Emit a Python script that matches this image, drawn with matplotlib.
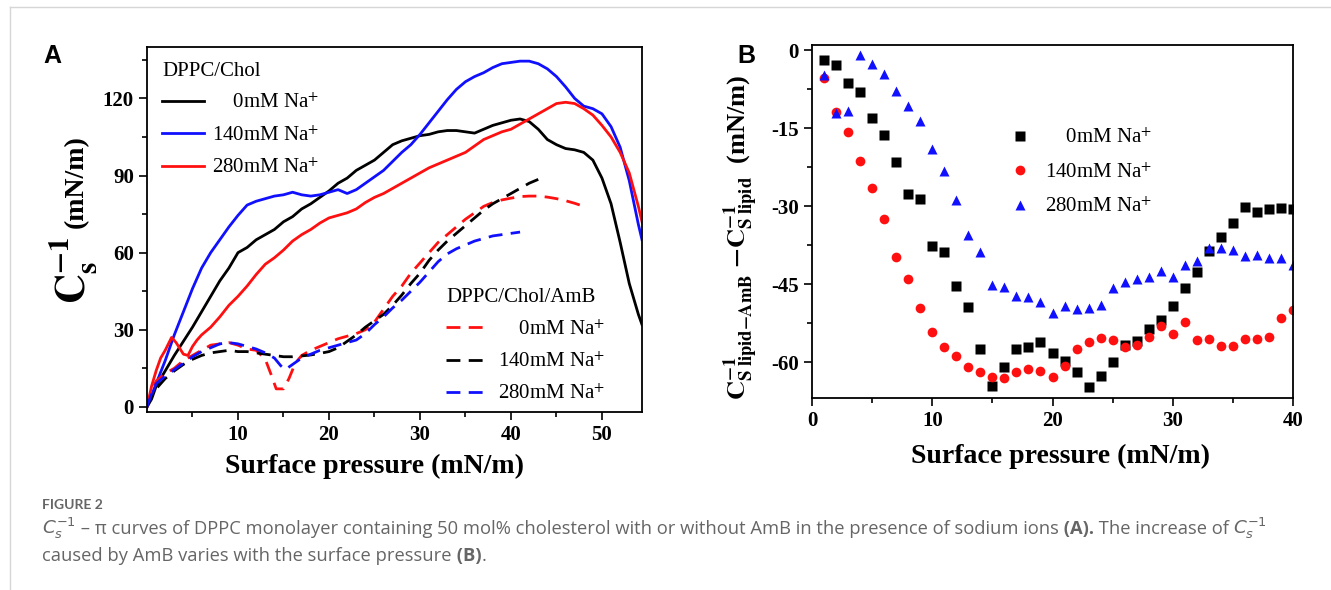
import numpy as np
import matplotlib
matplotlib.use('Agg')
import matplotlib.pyplot as plt
from matplotlib.lines import Line2D
from matplotlib.ticker import MultipleLocator, FixedLocator

plt.rcParams['font.family'] = ['Liberation Serif', 'DejaVu Serif']
plt.rcParams['mathtext.fontset'] = 'stix'
plt.rcParams['axes.unicode_minus'] = False

W, H = 1331, 590

# ---- panel A: compressibility modulus vs surface pressure ----
chol_0_x = [0, 0.5, 1, 2, 3, 4, 5, 6, 7, 8, 9, 10, 11, 12, 13, 14, 15, 16, 17, 18, 19, 20, 21, 22, 23, 24, 25,
            26, 27, 28, 29, 30, 31, 32, 33, 34, 35, 36, 37, 38, 39, 40, 41, 42, 43, 44, 45, 46, 47, 48, 49, 50,
            51, 52, 53, 54, 54.4]
chol_0_y = [0, 3, 8, 14, 20, 25.5, 31, 37, 43, 49, 54, 60, 62, 65, 67, 69, 72, 74, 77, 79, 81.5, 84, 87, 89, 92,
            94, 96, 99, 102, 103.5, 104.5, 105.5, 106, 107, 107.5, 107.5, 107, 106.5, 108, 109.5, 110.5, 111.5,
            112, 111, 108, 104, 102, 100.5, 100, 99, 96, 89, 79, 64, 48, 36, 32]

chol_140_x = [0, 1, 2, 3, 4, 5, 6, 7, 8, 9, 10, 11, 12, 13, 14, 15, 16, 17, 18, 19, 20, 21, 22, 23, 24, 25, 26,
              27, 28, 29, 30, 31, 32, 33, 34, 35, 36, 37, 38, 39, 40, 41, 42, 43, 44, 45, 46, 47, 48, 49, 50, 51,
              52, 53, 54, 54.4]
chol_140_y = [0, 9, 18, 28, 37, 46, 54, 60, 65, 70, 74.5, 78.5, 80, 81, 82, 82.5, 83.5, 82.5, 82, 82.5, 83.5,
              84.5, 83, 84.5, 87, 89.5, 92, 95.5, 99, 102, 106, 110.5, 115, 119.5, 123.5, 126.5, 128.5, 130, 132,
              133.5, 134, 134.5, 134.5, 133.5, 131.5, 128.5, 124.5, 120, 117, 116, 114, 109, 101, 88, 71, 65]

chol_280_x = [0, 0.5, 1, 1.5, 2, 2.7, 3.2, 4, 4.5, 5, 5.5, 6, 7, 8, 9, 10, 11, 12, 13, 14, 15, 16, 17, 18, 19,
              20, 21, 22, 23, 24, 25, 26, 27, 28, 29, 30, 31, 32, 33, 34, 35, 36, 37, 38, 39, 40, 41, 42, 43, 44,
              45, 46, 47, 48, 49, 50, 51, 52, 53, 54, 54.4]
chol_280_y = [0, 8, 14, 19, 22, 27, 25, 20.5, 20, 23.5, 26, 28, 31, 35, 39.5, 43, 47, 51.5, 55.5, 58, 61, 64.5,
              67, 69, 71.5, 73.5, 74.5, 75.5, 77, 79.5, 81.5, 83, 85, 87, 89, 91, 93, 94.5, 96, 97.5, 99, 101.5,
              104, 105.5, 107, 108, 110, 112, 114, 116, 118, 118.5, 118, 116, 113.5, 109.5, 105, 99, 91, 78, 72]

amb_0_x = [0, 0.5, 1, 2, 3, 4, 5, 6, 7, 8, 9, 10, 11, 12, 13, 13.7, 14.2, 15, 15.6, 16.3, 17, 18, 19, 20, 21,
           22, 23, 24, 25, 26, 27, 28, 29, 30, 31, 32, 33, 34, 35, 36, 37, 38, 39, 40, 41, 42, 43, 44, 45, 46,
           47, 48]
amb_0_y = [0, 6, 10, 13, 15, 18, 20, 22, 24, 24.5, 25, 24, 22.5, 22, 18.5, 12, 7, 7, 11, 17, 20, 22, 23.5, 25,
           26.5, 27.5, 28.5, 30, 33, 38, 43, 47, 52, 56, 60, 64, 67, 70, 73, 75.5, 78, 79.5, 80.5, 81.2, 81.8,
           82, 82, 81.6, 81, 80.2, 79.2, 78]

amb_140_x = [0, 0.5, 1, 2, 3, 4, 5, 6, 7, 8, 9, 10, 11, 12, 13, 14, 15, 16, 17, 18, 19, 20, 21, 22, 23, 24, 25,
             26, 27, 28, 29, 30, 31, 32, 33, 34, 35, 36, 37, 38, 39, 40, 41, 42, 43]
amb_140_y = [0, 4, 7, 11, 14, 16.5, 18.5, 20, 21, 21.5, 22, 21.5, 21.5, 21, 20.5, 20, 19.5, 19.5, 19.8, 20.2,
             20.8, 21.5, 23, 25.5, 28, 31, 33.5, 36, 39.5, 43.5, 48, 52, 57, 61, 64.5, 67.5, 70.5, 73.5, 76.5,
             79, 81, 83, 85, 87, 88.5]

amb_280_x = [0, 0.5, 1, 2, 3, 4, 5, 6, 7, 8, 9, 10, 11, 12, 13, 14, 14.7, 15.2, 16, 17, 18, 19, 20, 21, 22, 23,
             24, 25, 26, 27, 28, 29, 30, 31, 32, 33, 34, 35, 36, 37, 38, 39, 40, 41]
amb_280_y = [0, 5, 9, 12, 14.5, 17, 19.5, 21.5, 23, 24.5, 25, 24.5, 23.5, 22.5, 21, 19, 16, 14.5, 16.5, 19,
             20.5, 22, 23, 24, 25, 26, 28.5, 32, 35, 38.5, 41.5, 45, 48.5, 52.5, 56.5, 59.5, 61.5, 63, 64.5,
             65.5, 66.5, 67, 67.5, 68]

# ---- panel B: difference of moduli (lipid-AmB minus lipid) ----
pressure_b = list(range(1, 41))
diff_0 = [-1.9, -2.9, -6.3, -8.1, -13, -16.4, -21.6, -27.7, -28.7, -37.6, -38.8, -45.3, -49.3, -57.4, -64.5,
          -61, -57.5, -57.1, -56.2, -58.3, -59.7, -61.9, -64.8, -62.7, -60, -56.8, -56, -53.6, -51.9, -49.2,
          -45.8, -42.7, -38.7, -36, -33.2, -30.2, -31.2, -30.5, -30.4, -30.6]
diff_140 = [-5.3, -11.8, -15.7, -21.3, -26.6, -32.5, -39.7, -44, -49.6, -54.2, -57.1, -58.8, -60.9, -61.9,
            -62.9, -63.1, -61.9, -61.3, -61.8, -62.9, -60.8, -57.4, -56.1, -55.4, -55.8, -57.1, -56.8, -55.2,
            -53, -54.6, -52.2, -55.7, -55.6, -56.9, -56.9, -55.6, -55.6, -55.2, -51.6, -49.9]
diff_280 = [-4.7, -12, -11.7, -1, -2.6, -4.5, -7.9, -10.8, -13.6, -19, -23.2, -28.8, -35.5, -38.9, -45.1,
            -45.6, -47.2, -47.4, -48.5, -50.6, -49.2, -49.8, -49.5, -49, -45.8, -44.6, -44, -43.7, -42.4, -43.7,
            -41.3, -40.5, -38.1, -38.1, -38.4, -39.6, -39.4, -40, -40, -41.3]

na_labels = ['    0mM Na$^{+}$', '140mM Na$^{+}$', '280mM Na$^{+}$']

fig = plt.figure(figsize=(W / 100, H / 100), dpi=100)

def fig_box(l, t, r, b):
    # pixel box -> figure fraction
    return [l / W, 1 - b / H, (r - l) / W, (b - t) / H]

def style_axes(ax):
    for sp in ax.spines.values():
        sp.set_linewidth(1.3)
    ax.tick_params(which='both', direction='out', width=1.2, top=False, right=False,
                   labelsize=15)
    ax.tick_params(which='major', length=6)
    ax.tick_params(which='minor', length=3.5)

leg_prop = {'size': 15, 'weight': 'normal'}

# ---------------- A ----------------
axA = fig.add_axes(fig_box(147, 47, 642, 412))
lw = 2.0
dash = (5.0, 3.0)
l0, = axA.plot(chol_0_x, chol_0_y, color='black', lw=lw)
l140, = axA.plot(chol_140_x, chol_140_y, color='#1010ff', lw=lw)
l280, = axA.plot(chol_280_x, chol_280_y, color='#ff1010', lw=lw)
d0, = axA.plot(amb_0_x, amb_0_y, color='#ff1010', lw=lw, dashes=dash)
d140, = axA.plot(amb_140_x, amb_140_y, color='black', lw=lw, dashes=dash)
d280, = axA.plot(amb_280_x, amb_280_y, color='#1010ff', lw=lw, dashes=dash)

axA.set_xlim(0, 54.4)
axA.set_ylim(-2, 140)
axA.xaxis.set_major_locator(FixedLocator([10, 20, 30, 40, 50]))
axA.xaxis.set_minor_locator(FixedLocator([5, 15, 25, 35, 45]))
axA.yaxis.set_major_locator(FixedLocator([0, 30, 60, 90, 120]))
axA.yaxis.set_minor_locator(FixedLocator([15, 45, 75, 105, 135]))
style_axes(axA)
axA.set_xlabel('Surface pressure (mN/m)', fontsize=20, fontweight='bold')
axA.xaxis.set_label_coords(0.46, -0.115)
# y label in two pieces: big C and smaller unit
axA.text(-0.149, 0.389, r'$\mathbf{C_s^{-1}}$', transform=axA.transAxes, rotation=90,
         ha='center', va='center', fontsize=30)
axA.text(-0.143, 0.63, '(mN/m)', transform=axA.transAxes, rotation=90,
         ha='center', va='center', fontsize=20, fontweight='bold')

legA1 = axA.legend([l0, l140, l280], na_labels, title='DPPC/Chol', loc='upper left',
                   bbox_to_anchor=(0.022, 0.97), frameon=False, prop=leg_prop,
                   title_fontproperties=leg_prop,
                   alignment='left', handlelength=2.0, handletextpad=0.4, labelspacing=0.61,
                   borderpad=0.2, borderaxespad=0)
axA.add_artist(legA1)
axA.legend([d0, d140, d280], na_labels, title='DPPC/Chol/AmB', loc='upper left',
           bbox_to_anchor=(0.596, 0.35), frameon=False, prop=leg_prop,
           title_fontproperties=leg_prop,
           alignment='left', handlelength=1.8, handletextpad=0.7, labelspacing=0.61,
           borderpad=0.2, borderaxespad=0)

# ---------------- B ----------------
axB = fig.add_axes(fig_box(812, 45, 1293, 398))
m0, = axB.plot(pressure_b, diff_0, ls='none', marker='s', ms=6.5, color='black', mec='none')
m140, = axB.plot(pressure_b, diff_140, ls='none', marker='o', ms=7, color='#ff1010', mec='none')
m280, = axB.plot(pressure_b, diff_280, ls='none', marker='^', ms=7.5, color='#1010ff', mec='none')
axB.set_xlim(0, 40)
axB.set_ylim(-66.9, 1)
axB.xaxis.set_major_locator(MultipleLocator(10))
axB.xaxis.set_minor_locator(MultipleLocator(5))
axB.yaxis.set_major_locator(FixedLocator([0, -15, -30, -45, -60]))
axB.yaxis.set_minor_locator(FixedLocator([-7.5, -22.5, -37.5, -52.5]))
style_axes(axB)
axB.set_xlabel('Surface pressure (mN/m)', fontsize=20, fontweight='bold')
axB.xaxis.set_label_coords(0.516, -0.13)
axB.set_ylabel(r'$\mathbf{C^{-1}_{S\ lipid{-}AmB}\ {-}C^{-1}_{S\ lipid}}$  (mN/m)',
               fontsize=19, fontweight='bold')
axB.yaxis.set_label_coords(-0.106, 0.455)
axB.legend([m0, m140, m280], na_labels, loc='upper left', bbox_to_anchor=(0.38, 0.775),
           frameon=False, prop=leg_prop, handletextpad=0.2, labelspacing=0.71,
           borderpad=0.2, borderaxespad=0)

# panel letters
fig.text(43 / W, 1 - 63 / H, 'A', family='Liberation Sans', fontweight='bold', fontsize=18)
fig.text(737 / W, 1 - 63 / H, 'B', family='Liberation Sans', fontweight='bold', fontsize=18)

# page frame
fig.add_artist(Line2D([10 / W, 1], [1 - 7 / H, 1 - 7 / H], transform=fig.transFigure,
                      color='#d6d6d6', lw=1))
fig.add_artist(Line2D([10 / W, 10 / W], [0, 1 - 7 / H], transform=fig.transFigure,
                      color='#d6d6d6', lw=1))

# caption
cap_color = '#666666'
cap_font = ['Open Sans', 'DejaVu Sans']
fig.text(42 / W, 1 - 509 / H, 'FIGURE 2', family=['Lato', 'DejaVu Sans'], fontsize=10,
         color=cap_color, fontweight='bold')

def draw_runs(x_px, y_px, runs, size):
    renderer = fig.canvas.get_renderer()
    x = x_px
    for s, weight in runs:
        t = fig.text(x / W, 1 - y_px / H, s, family=cap_font, fontsize=size, color=cap_color,
                     fontweight=weight, va='baseline', ha='left', math_fontfamily='dejavusans')
        bb = t.get_window_extent(renderer)
        x += bb.width

cs = r'$C_s^{-1}$'
draw_runs(42, 534, [(cs, 'normal'),
                    (' \u2013 \u03c0 curves of DPPC monolayer containing 50 mol% cholesterol with or without AmB in the presence of sodium ions', 'normal'),
                    (' (A).', 'bold'),
                    (' The increase of ', 'normal'),
                    (cs, 'normal')], 13.2)
draw_runs(42, 561, [('caused by AmB varies with the surface pressure', 'normal'),
                    (' (B)', 'bold'),
                    ('.', 'normal')], 13.2)

# bold tick labels (ticks exist after a first draw)
fig.canvas.draw()
for ax in (axA, axB):
    plt.setp(ax.get_xticklabels() + ax.get_yticklabels(), fontweight='bold')

fig.savefig('out.png', dpi=100)
